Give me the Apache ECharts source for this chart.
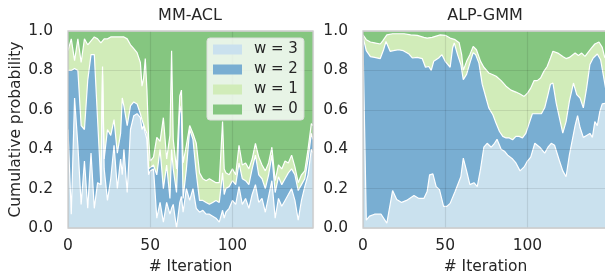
<!DOCTYPE html>
<html>
<head>
<meta charset="utf-8">
<script src="https://cdn.jsdelivr.net/npm/echarts@6/dist/echarts.min.js"></script>
<style>
  html, body { margin: 0; padding: 0; background: #fff; }
  #chart { width: 605px; height: 276px; }
</style>
</head>
<body>
<div id="chart"></div>
<script>
// level names, bottom of the stack first
var levels = ['w = 3', 'w = 2', 'w = 1', 'w = 0'];
var colors = ['#cae1ee', '#79aed2', '#d1ecb9', '#85c680'];
var xTicks = [0, 50, 100];

// MM-ACL: cumulative probability at the top of each level
var mmIter = [0, 2, 4, 6, 8, 10, 12, 14, 16, 18, 20, 21, 22, 24, 26, 28, 30, 32, 33, 34, 36, 38, 40, 42, 44, 45, 46, 47, 48, 49,
  50, 52, 54, 56, 58, 60, 62, 63, 64, 66, 68, 69, 70, 72, 74, 76, 78, 80, 82, 84, 86, 88, 90, 92, 94, 95, 96, 98,
  100, 102, 104, 106, 108, 110, 112, 114, 116, 118, 120, 122, 124, 126, 128, 130, 132, 134, 136, 138, 140, 142, 144, 146, 148, 149];
var mmW3 = [0.50, 0.07, 0.66, 0.42, 0.12, 0.34, 0.10, 0.38, 0.10, 0.23, 0.22, 0.78, 0.30, 0.14, 0.25, 0.42, 0.20, 0.35, 0.27, 0.40, 0.18, 0.50, 0.57, 0.58, 0.56, 0.50, 0.52, 0.48, 0.45, 0.27,
  0.29, 0.30, 0.05, 0.13, 0.03, 0.13, 0.07, 0.10, 0.12, 0.00, 0.13, 0.16, 0.08, 0.20, 0.14, 0.20, 0.10, 0.08, 0.09, 0.07, 0.07, 0.06, 0.05, 0.03, 0.09, 0.05, 0.08, 0.10,
  0.14, 0.12, 0.21, 0.12, 0.15, 0.10, 0.17, 0.22, 0.13, 0.15, 0.08, 0.16, 0.24, 0.05, 0.15, 0.11, 0.14, 0.17, 0.20, 0.14, 0.04, 0.14, 0.21, 0.27, 0.40, 0.38];
var mmW2 = [0.80, 0.80, 0.81, 0.80, 0.52, 0.50, 0.75, 0.88, 0.88, 0.55, 0.22, 0.82, 0.35, 0.50, 0.47, 0.55, 0.38, 0.48, 0.66, 0.62, 0.52, 0.62, 0.64, 0.63, 0.58, 0.55, 0.56, 0.50, 0.48, 0.30,
  0.31, 0.32, 0.27, 0.40, 0.20, 0.32, 0.15, 0.40, 0.30, 0.18, 0.62, 0.58, 0.15, 0.30, 0.50, 0.45, 0.28, 0.14, 0.14, 0.13, 0.12, 0.13, 0.14, 0.13, 0.28, 0.17, 0.20, 0.21,
  0.24, 0.22, 0.33, 0.25, 0.24, 0.22, 0.30, 0.37, 0.27, 0.25, 0.20, 0.27, 0.37, 0.18, 0.26, 0.22, 0.25, 0.28, 0.30, 0.27, 0.19, 0.22, 0.25, 0.35, 0.48, 0.45];
var mmW1 = [0.90, 0.96, 0.85, 0.96, 0.84, 0.96, 0.93, 0.95, 0.97, 0.96, 0.94, 0.95, 0.96, 0.96, 0.97, 0.97, 0.97, 0.97, 0.97, 0.97, 0.96, 0.93, 0.91, 0.89, 0.84, 0.72, 0.76, 0.86, 0.70, 0.46,
  0.34, 0.36, 0.46, 0.44, 0.56, 0.35, 0.47, 0.90, 0.45, 0.30, 0.67, 0.70, 0.33, 0.42, 0.52, 0.48, 0.43, 0.28, 0.25, 0.24, 0.25, 0.24, 0.23, 0.23, 0.54, 0.30, 0.28, 0.27,
  0.30, 0.27, 0.42, 0.32, 0.33, 0.30, 0.35, 0.43, 0.36, 0.32, 0.29, 0.33, 0.41, 0.24, 0.32, 0.30, 0.34, 0.33, 0.37, 0.31, 0.23, 0.27, 0.29, 0.40, 0.53, 0.52];

// ALP-GMM: [iteration, cumulative probability] read along each boundary
var alpW3 = [[0, 0.95], [2, 0.04], [4, 0.06], [7, 0.07], [11, 0.07], [14.5, 0.025], [18, 0.19], [20.5, 0.145], [23.5, 0.13], [26.5, 0.14],
  [31, 0.165], [34, 0.15], [37, 0.15], [39, 0.185], [40.5, 0.27], [42.5, 0.275], [44.5, 0.21], [46.5, 0.195], [49, 0.11], [51, 0.11],
  [53, 0.125], [56, 0.185], [59.5, 0.26], [61, 0.355], [63, 0.29], [65, 0.22], [67.5, 0.23], [69.5, 0.21], [71.5, 0.30], [73.5, 0.41],
  [75.5, 0.43], [78, 0.41], [80, 0.43], [81.5, 0.45], [84, 0.40], [86, 0.39], [88, 0.37], [91, 0.35], [93, 0.33], [95.5, 0.29],
  [98, 0.31], [100, 0.34], [102, 0.36], [104.5, 0.43], [107.5, 0.41], [110.5, 0.38], [112.5, 0.41], [114.5, 0.43], [116.5, 0.42],
  [119.5, 0.34], [121.5, 0.29], [123.5, 0.26], [125.5, 0.37], [129, 0.52], [130.5, 0.57], [132, 0.51], [134, 0.46], [136, 0.47],
  [138, 0.48], [139.5, 0.46], [141, 0.54], [142.5, 0.52], [144, 0.59], [145.5, 0.63], [149, 0.635]];
var alpW2 = [[0, 0.97], [2, 0.90], [4.5, 0.87], [7, 0.866], [10.5, 0.86], [12.5, 0.905], [14, 0.947], [16.5, 0.897], [18.5, 0.90], [21.5, 0.905],
  [24.5, 0.90], [28, 0.883], [30, 0.863], [33, 0.866], [36, 0.86], [38, 0.816], [40, 0.82], [41.5, 0.80], [43, 0.846], [46, 0.863],
  [48, 0.88], [50, 0.846], [53, 0.816], [54.5, 0.914], [55.5, 0.94], [57.5, 0.88], [59.5, 0.83], [61, 0.753], [63, 0.78], [65, 0.837],
  [67, 0.89], [68.5, 0.88], [70.5, 0.837], [72.5, 0.73], [74.5, 0.67], [76.5, 0.61], [79, 0.575], [81, 0.53], [83, 0.49], [85, 0.465],
  [87, 0.457], [89, 0.457], [91, 0.448], [93, 0.465], [95, 0.465], [97, 0.457], [99, 0.48], [101, 0.53], [103, 0.58], [105.5, 0.58],
  [108.5, 0.58], [110.5, 0.61], [112.5, 0.677], [114, 0.73], [115.5, 0.736], [117.5, 0.634], [119.5, 0.558], [121.5, 0.482],
  [123.5, 0.54], [125.5, 0.643], [128, 0.736], [130, 0.677], [132, 0.66], [134, 0.61], [136, 0.71], [138, 0.83], [140, 0.863],
  [142.5, 0.883], [144.5, 0.854], [146.5, 0.76], [148, 0.685], [149, 0.67]];
var alpW1 = [[0, 0.98], [2, 0.956], [4.5, 0.944], [7, 0.94], [10.5, 0.934], [12, 0.95], [14.5, 0.98], [18, 0.986], [25, 0.986], [29, 0.98],
  [33, 0.978], [37, 0.968], [39, 0.964], [42, 0.968], [44, 0.973], [47, 0.98], [50, 0.978], [53, 0.964], [56, 0.956], [58.5, 0.94],
  [60, 0.88], [61, 0.80], [63, 0.846], [65, 0.88], [67, 0.922], [69, 0.905], [71.5, 0.846], [73.5, 0.816], [76.5, 0.787], [79, 0.778],
  [81, 0.77], [84, 0.748], [87, 0.72], [90, 0.70], [93, 0.69], [95.5, 0.68], [98, 0.668], [100, 0.685], [102, 0.71], [104, 0.748],
  [106, 0.748], [108, 0.761], [110, 0.795], [112, 0.82], [114, 0.863], [115.5, 0.897], [118.5, 0.888], [121.5, 0.871], [123.5, 0.86],
  [125.5, 0.866], [129, 0.888], [131, 0.876], [133, 0.888], [135, 0.871], [139, 0.914], [141, 0.934], [143.5, 0.944], [145.5, 0.917],
  [147, 0.866], [149, 0.86]];

// w = 0 always closes the stack at 1
var topIter = [0, 149];
var topCum = [1, 1];

var textColor = '#262626';
var fontFamily = 'DejaVu Sans';

function pairs(xs, ys) {
  return xs.map(function (x, i) { return [x, ys[i]]; });
}

function band(name, idx, data) {
  return {
    name: name,
    type: 'line',
    xAxisIndex: idx,
    yAxisIndex: idx,
    data: data,
    showSymbol: false,
    symbol: 'none',
    silent: true,
    color: colors[levels.indexOf(name)],
    lineStyle: { color: '#ffffff', width: 1.2 },
    areaStyle: { color: colors[levels.indexOf(name)], opacity: 1 },
    z: 2
  };
}

var gridLeft = [68, 363];
var titles = ['MM-ACL', 'ALP-GMM'];

var chart = echarts.init(document.getElementById('chart'), null, { renderer: 'canvas' });

var xAxes = [], yAxes = [], grids = [], titleOpts = [];
for (var k = 0; k < 2; k++) {
  grids.push({
    left: gridLeft[k], top: 31, width: 245, height: 197,
    outerBoundsMode: 'none', containLabel: false,
    show: true, backgroundColor: 'transparent',
    borderColor: '#cccccc', borderWidth: 1.3, z: 6
  });
  xAxes.push({
    type: 'value', gridIndex: k, min: 0, max: 149, interval: 50,
    name: '# Iteration', nameLocation: 'middle', nameGap: 30,
    nameTextStyle: { color: textColor, fontSize: 15.5, fontFamily: fontFamily },
    axisLine: { show: false }, axisTick: { show: false },
    axisLabel: {
      color: textColor, fontSize: 15.5, fontFamily: fontFamily, margin: 10,
      showMaxLabel: false,
      formatter: function (v) { return xTicks.indexOf(v) >= 0 ? String(v) : ''; }
    },
    splitLine: { show: true, lineStyle: { color: 'rgba(0,0,0,0.09)', width: 1.2 } },
    z: 5
  });
  yAxes.push({
    type: 'value', gridIndex: k, min: 0, max: 1, interval: 0.2,
    name: k === 0 ? 'Cumulative probability' : '',
    nameLocation: 'middle', nameGap: 44,
    nameTextStyle: { color: textColor, fontSize: 15.5, fontFamily: fontFamily },
    axisLine: { show: false }, axisTick: { show: false },
    axisLabel: {
      color: textColor, fontSize: 15.5, fontFamily: fontFamily, margin: 15,
      formatter: function (v) { return v.toFixed(1); }
    },
    splitLine: { show: true, lineStyle: { color: 'rgba(0,0,0,0.09)', width: 1.2 } },
    z: 5
  });
  titleOpts.push({
    text: titles[k], left: gridLeft[k] + 122, top: 8, textAlign: 'center', padding: 0,
    textStyle: { color: textColor, fontSize: 16, fontWeight: 'normal', fontFamily: fontFamily }
  });
}

var series = [
  band('w = 0', 0, pairs(topIter, topCum)),
  band('w = 1', 0, pairs(mmIter, mmW1)),
  band('w = 2', 0, pairs(mmIter, mmW2)),
  band('w = 3', 0, pairs(mmIter, mmW3)),
  band('w = 0', 1, pairs(topIter, topCum)),
  band('w = 1', 1, alpW1),
  band('w = 2', 1, alpW2),
  band('w = 3', 1, alpW3)
];

chart.setOption({
  animation: false,
  title: titleOpts,
  grid: grids,
  xAxis: xAxes,
  yAxis: yAxes,
  legend: {
    orient: 'vertical',
    left: 207, top: 38,
    padding: [4, 6, 3, 6],
    itemWidth: 29, itemHeight: 10, itemGap: 5,
    selectedMode: false,
    backgroundColor: 'rgba(255,255,255,0.8)',
    borderColor: '#dddddd', borderWidth: 1, borderRadius: 3,
    icon: 'rect',
    textStyle: { color: textColor, fontSize: 15, fontFamily: fontFamily, padding: [0, 0, 0, 7] },
    data: levels.map(function (n, i) {
      return { name: n, itemStyle: { color: colors[i], borderWidth: 0 } };
    }),
    z: 10
  },
  series: series
});
</script>
</body>
</html>
